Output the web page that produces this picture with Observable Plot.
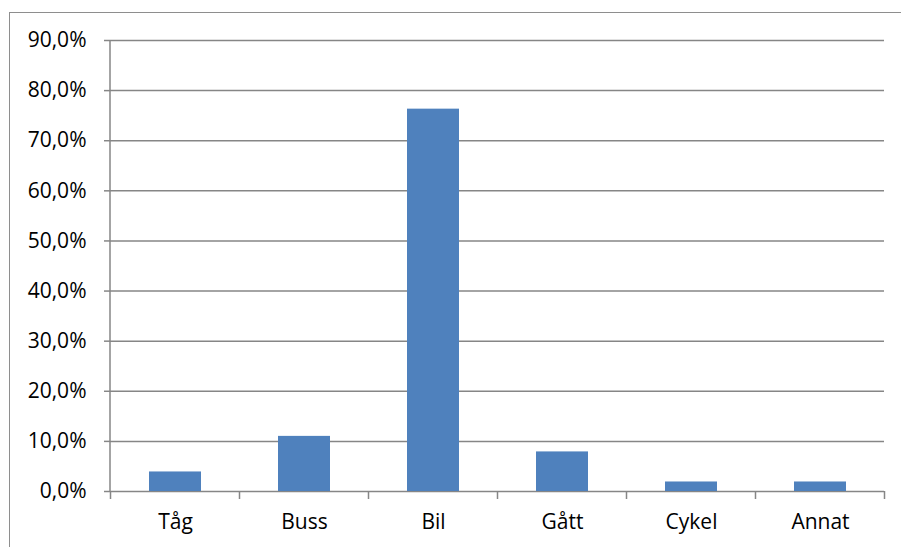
<!DOCTYPE html>
<html>
<head>
<meta charset="utf-8">
<script src="https://cdn.jsdelivr.net/npm/d3@7"></script>
<script src="https://cdn.jsdelivr.net/npm/@observablehq/plot@0.6"></script>
<style>
  html, body { margin: 0; padding: 0; background: #fff; }
  #wrap { position: relative; width: 901px; height: 547px; overflow: hidden; }
  #frame { position: absolute; left: 9px; top: 12px; width: 1000px; height: 1000px; border: 1px solid #8e8e8e; box-sizing: border-box; pointer-events: none; }
  #chart { position: absolute; left: 0; top: 0; }
</style>
</head>
<body>
<div id="wrap"><div id="chart"></div><div id="frame"></div></div>
<script>
const categories = ["Tåg", "Buss", "Bil", "Gått", "Cykel", "Annat"];
const values = [0.039, 0.110, 0.763, 0.079, 0.019, 0.019];
const yTicks = [0, 0.1, 0.2, 0.3, 0.4, 0.5, 0.6, 0.7, 0.8, 0.9];

const data = categories.map((c, i) => ({category: c, value: values[i]}));
const gray = "#868686";
const fmt = v => (v * 100).toFixed(1).replace(".", ",") + "%";

// ticks at band boundaries below the x axis, plus the vertical y axis line
const axisExtras = (index, scales, values, dimensions) => {
  const x = scales.x, y = scales.y;
  const step = x.step ? x.step() : x.bandwidth();
  const y0 = y(0);
  const g = d3.create("svg:g").attr("stroke", gray).attr("stroke-width", 1.5);
  const positions = categories.map(c => x(c) + x.bandwidth() / 2 - step / 2);
  positions.push(x(categories[categories.length - 1]) + x.bandwidth() / 2 + step / 2);
  for (const px of positions) {
    g.append("line").attr("x1", px).attr("x2", px).attr("y1", y0).attr("y2", y0 + 8);
  }
  const xl = dimensions.marginLeft;
  g.append("line").attr("x1", xl).attr("x2", xl)
    .attr("y1", y(yTicks[yTicks.length - 1])).attr("y2", y0);
  return g.node();
};

const chart = Plot.plot({
  width: 901,
  height: 547,
  marginLeft: 110,
  marginRight: 17,
  marginTop: 40,
  marginBottom: 56,
  style: {fontFamily: "'Open Sans', sans-serif", fontSize: "21px", color: "#000", background: "transparent"},
  x: {domain: categories, paddingInner: 0.6, paddingOuter: 0.3, label: null},
  y: {domain: [0, 0.9], label: null},
  marks: [
    Plot.ruleY(yTicks, {stroke: gray, strokeWidth: 1.5, strokeOpacity: 1}),
    Plot.barY(data, {x: "category", y: "value", fill: "#4F81BD"}),
    Plot.axisY(yTicks, {tickFormat: fmt, tickSize: 6, tickPadding: 18, stroke: gray, strokeWidth: 1.5, strokeOpacity: 1, fontSize: 21, fill: "#000"}),
    Plot.axisX({tickSize: 0, tickPadding: 23, fontSize: 21, fill: "#000"}),
    axisExtras
  ]
});

document.getElementById("chart").appendChild(chart);
</script>
</body>
</html>
